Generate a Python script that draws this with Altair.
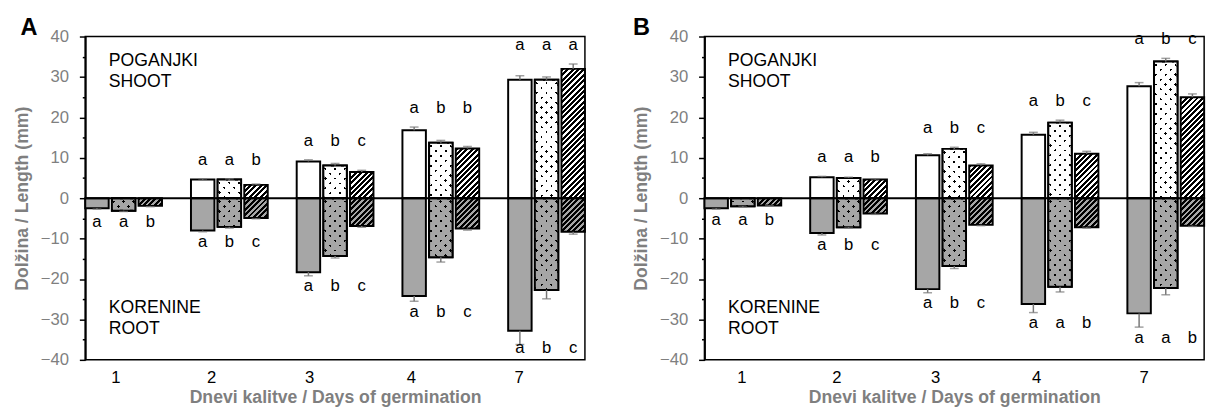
import altair as alt

FONT = "Liberation Sans"
TXT_GRAY = "#7f7f7f"
ERR_GRAY = "#777777"
ROOT_GRAY = "#a6a6a6"

DAYS = ["1", "2", "3", "4", "7"]
SHOOT_DAYS = ["2", "3", "4", "7"]
TREATMENTS = ["T1", "T2", "T3"]

# ---------------- Panel A ----------------
A_SHOOT_T1 = [4.6, 9.1, 16.8, 29.3]
A_SHOOT_T2 = [4.6, 8.1, 13.7, 29.3]
A_SHOOT_T3 = [3.3, 6.5, 12.3, 32.0]
A_SHOOT_ERR_T1 = [0.2, 0.4, 0.8, 1.0]
A_SHOOT_ERR_T2 = [0.2, 0.5, 0.6, 0.7]
A_SHOOT_ERR_T3 = [0.2, 0.4, 0.5, 1.2]
A_SHOOT_LET_T1 = ["a", "a", "a", "a"]
A_SHOOT_LET_T2 = ["a", "b", "b", "a"]
A_SHOOT_LET_T3 = ["b", "c", "b", "a"]

A_ROOT_T1 = [-2.5, -8.0, -18.3, -24.2, -32.8]
A_ROOT_T2 = [-3.1, -7.1, -14.3, -14.6, -22.7]
A_ROOT_T3 = [-1.9, -4.9, -6.9, -7.5, -8.3]
A_ROOT_ERR_T1 = [0.2, 0.3, 0.9, 1.3, 3.4]
A_ROOT_ERR_T2 = [0.2, 0.3, 0.5, 1.2, 2.2]
A_ROOT_ERR_T3 = [0.2, 0.2, 0.3, 0.4, 0.6]
A_ROOT_LET_T1 = ["a", "a", "a", "a", "a"]
A_ROOT_LET_T2 = ["a", "b", "b", "b", "b"]
A_ROOT_LET_T3 = ["b", "c", "c", "c", "c"]

# ---------------- Panel B ----------------
B_SHOOT_T1 = [5.2, 10.6, 15.7, 27.7]
B_SHOOT_T2 = [5.0, 12.2, 18.7, 33.8]
B_SHOOT_T3 = [4.6, 8.1, 11.0, 25.0]
B_SHOOT_ERR_T1 = [0.2, 0.4, 0.6, 0.9]
B_SHOOT_ERR_T2 = [0.2, 0.4, 0.6, 0.8]
B_SHOOT_ERR_T3 = [0.2, 0.4, 0.6, 0.8]
B_SHOOT_LET_T1 = ["a", "a", "a", "a"]
B_SHOOT_LET_T2 = ["a", "b", "b", "b"]
B_SHOOT_LET_T3 = ["b", "c", "c", "c"]

B_ROOT_T1 = [-2.5, -8.6, -22.5, -26.2, -28.5]
B_ROOT_T2 = [-2.0, -7.2, -16.8, -21.9, -22.2]
B_ROOT_T3 = [-1.8, -3.8, -6.6, -7.2, -6.8]
B_ROOT_ERR_T1 = [0.2, 0.5, 0.9, 2.1, 3.4]
B_ROOT_ERR_T2 = [0.2, 0.2, 0.6, 1.3, 1.7]
B_ROOT_ERR_T3 = [0.1, 0.2, 0.2, 0.2, 0.2]
B_ROOT_LET_T1 = ["a", "a", "a", "a", "a"]
B_ROOT_LET_T2 = ["a", "b", "b", "a", "a"]
B_ROOT_LET_T3 = ["b", "c", "c", "b", "b"]

# ---------------- pattern helpers (fill styles) ----------------
PLOT_W, PLOT_H = 510, 330
PX_PER_UNIT = PLOT_H / 80.0
X_PAD_INNER, SUB_PAD_INNER = 0.274, 0.12
_step = PLOT_W / (len(DAYS) - X_PAD_INNER)
_band = _step * (1 - X_PAD_INNER)
BAR_W = _band / (len(TREATMENTS) - SUB_PAD_INNER) * (1 - SUB_PAD_INNER)


def _stops(total, period, frac, on, off, phase):
    pt = period / total
    out = []
    t = (phase - 1.0) * pt
    while t < 1.0:
        a, b, c = t, t + frac * pt, t + pt
        for o, col in ((a, on), (b, on), (b, off), (c, off)):
            out.append({"offset": round(min(max(o, 0.0), 1.0), 5), "color": col})
        t += pt
    return out


def diag_grad(w, h, period, frac, on, off, direction, phase=0.0):
    k = (w + h) / (w * w + h * h)
    if direction == "/":
        x1, y1, x2, y2 = 0, 0, k * w, k * h
    else:
        x1, y1, x2, y2 = 1, 0, 1 - k * w, k * h
    return {"gradient": "linear", "x1": x1, "y1": y1, "x2": round(x2, 6), "y2": round(y2, 6),
            "stops": _stops(w + h, period, frac, on, off, phase)}


def build_rows(shoots, shoot_errs, shoot_lets, roots, root_errs, root_lets):
    rows = []
    for ti, t in enumerate(TREATMENTS):
        parts = [("shoot", SHOOT_DAYS, shoots[ti], shoot_errs[ti], shoot_lets[ti]),
                 ("root", DAYS, roots[ti], root_errs[ti], root_lets[ti])]
        for part, dlist, vals, errs, lets in parts:
            bg = "white" if part == "shoot" else ROOT_GRAY
            for d, v, e, l in zip(dlist, vals, errs, lets):
                h = max(abs(v) * PX_PER_UNIT, 1.0)
                row = {"day": d, "trt": t, "part": part, "value": v, "err": e, "letter": l}
                if t == "T1":
                    row["fill1"] = bg
                elif t == "T2":
                    row["fill1"] = diag_grad(BAR_W, h, 10, 0.27, "black", bg, "/", 0.4)
                    row["fill2"] = diag_grad(BAR_W, h, 10, 0.27, "rgba(255,255,255,0)", bg, "\\", 0.4)
                else:
                    row["fill1"] = diag_grad(BAR_W, h, 5.5, 0.55, "black", bg, "/")
                rows.append(row)
    return rows


def make_panel(rows, letter, title_dx, label_offsets):
    data = alt.Data(values=rows)
    base = alt.Chart(data)

    x_axis = alt.Axis(
        title="Dnevi kalitve / Days of germination", labelAngle=0, ticks=False, domain=False,
        labelColor="black", labelFont=FONT, labelFontSize=17, labelPadding=10,
        labelOffset={"condition": [{"test": f"datum.value == '{d}'", "value": o}
                                   for d, o in zip(DAYS, label_offsets)], "value": 0},
        titleColor=TXT_GRAY, titleFont=FONT, titleFontSize=18, titleFontWeight="bold",
        titlePadding=4, grid=False)
    x = alt.X("day:N", sort=DAYS, axis=x_axis,
              scale=alt.Scale(paddingInner=X_PAD_INNER, paddingOuter=0))
    xoff = alt.XOffset("trt:N", sort=TREATMENTS,
                       scale=alt.Scale(paddingInner=SUB_PAD_INNER, paddingOuter=0))

    y_axis = alt.Axis(
        title="Dolžina / Length (mm)", values=list(range(-40, 45, 5)),
        labelExpr="datum.value % 10 == 0 ? datum.label : ''",
        tickSize={"condition": {"test": "datum.value % 10 != 0", "value": 3}, "value": 6},
        tickColor="black", tickWidth=1.5, domainColor="black", domainWidth=2,
        labelColor=TXT_GRAY, labelFont=FONT, labelFontSize=17, labelPadding=11,
        labelOverlap=False, labelFlush=False,
        titleColor=TXT_GRAY, titleFont=FONT, titleFontSize=18, titleFontWeight="bold",
        titlePadding=9, grid=False)
    y_scale = alt.Scale(domain=[-40, 40], nice=False)

    def Y(field):
        return alt.Y(field, scale=y_scale, axis=y_axis)

    end_expr = "datum.part == 'shoot' ? datum.value + datum.err : datum.value - datum.err"

    bars = base.mark_bar(stroke="black", strokeWidth=2).encode(
        x=x, xOffset=xoff, y=Y("value:Q"), fill=alt.Fill("fill1:N", scale=None))
    dots = base.transform_filter("datum.trt == 'T2'").mark_bar(stroke="black", strokeWidth=2).encode(
        x=x, xOffset=xoff, y=Y("value:Q"), fill=alt.Fill("fill2:N", scale=None))
    err_rule = base.transform_calculate(end=end_expr).mark_rule(color=ERR_GRAY, strokeWidth=1.5).encode(
        x=x, xOffset=xoff, y=Y("value:Q"), y2="end:Q")
    err_cap = base.transform_calculate(end=end_expr).mark_tick(
        color=ERR_GRAY, thickness=1.5, size=9, orient="horizontal").encode(
        x=x, xOffset=xoff, y=Y("end:Q"))
    zero = alt.Chart(alt.Data(values=[{}])).mark_rule(color="black", strokeWidth=2).encode(
        y=alt.Y(datum=0, scale=y_scale, axis=y_axis))

    shoot_let = (base.transform_filter("datum.part == 'shoot'")
                 .transform_calculate(end=end_expr)
                 .transform_joinaggregate(gmax="max(end)", groupby=["day"])
                 .transform_calculate(ly="datum.gmax + 4.7")
                 .mark_text(font=FONT, fontSize=17, color="black", baseline="middle")
                 .encode(x=x, xOffset=xoff, y=Y("ly:Q"), text="letter:N"))
    root_let = (base.transform_filter("datum.part == 'root'")
                .transform_calculate(end=end_expr)
                .transform_joinaggregate(gmin="min(end)", groupby=["day"])
                .transform_calculate(ly="max(datum.gmin - 2.6, -37.2)")
                .mark_text(font=FONT, fontSize=17, color="black", baseline="middle")
                .encode(x=x, xOffset=xoff, y=Y("ly:Q"), text="letter:N"))

    ann_top = alt.Chart(alt.Data(values=[{}])).mark_text(
        text=["POGANJKI", "SHOOT"], lineHeight=21.5, align="left", baseline="alphabetic",
        font=FONT, fontSize=18, color="black").encode(
        x=alt.value(24), y=alt.Y(datum=32.6, scale=y_scale, axis=y_axis))
    ann_bot = alt.Chart(alt.Data(values=[{}])).mark_text(
        text=["KORENINE", "ROOT"], lineHeight=21.5, align="left", baseline="alphabetic",
        font=FONT, fontSize=18, color="black").encode(
        x=alt.value(24), y=alt.Y(datum=-28.5, scale=y_scale, axis=y_axis))

    return alt.layer(bars, dots, err_rule, err_cap, zero, shoot_let, root_let, ann_top, ann_bot).properties(
        width=PLOT_W, height=PLOT_H,
        title=alt.TitleParams(text=letter, anchor="start", frame="group", dx=title_dx, dy=32,
                              fontSize=24, fontWeight="bold", font=FONT, color="black",
                              baseline="alphabetic", offset=1))


rows_a = build_rows([A_SHOOT_T1, A_SHOOT_T2, A_SHOOT_T3],
                    [A_SHOOT_ERR_T1, A_SHOOT_ERR_T2, A_SHOOT_ERR_T3],
                    [A_SHOOT_LET_T1, A_SHOOT_LET_T2, A_SHOOT_LET_T3],
                    [A_ROOT_T1, A_ROOT_T2, A_ROOT_T3],
                    [A_ROOT_ERR_T1, A_ROOT_ERR_T2, A_ROOT_ERR_T3],
                    [A_ROOT_LET_T1, A_ROOT_LET_T2, A_ROOT_LET_T3])
rows_b = build_rows([B_SHOOT_T1, B_SHOOT_T2, B_SHOOT_T3],
                    [B_SHOOT_ERR_T1, B_SHOOT_ERR_T2, B_SHOOT_ERR_T3],
                    [B_SHOOT_LET_T1, B_SHOOT_LET_T2, B_SHOOT_LET_T3],
                    [B_ROOT_T1, B_ROOT_T2, B_ROOT_T3],
                    [B_ROOT_ERR_T1, B_ROOT_ERR_T2, B_ROOT_ERR_T3],
                    [B_ROOT_LET_T1, B_ROOT_LET_T2, B_ROOT_LET_T3])

panel_a = make_panel(rows_a, "A", -66, [-8, -18, -26, -30, -28])
panel_b = make_panel(rows_b, "B", -73, [-1, -12, -19, -24, -22])

chart = alt.hconcat(panel_a, panel_b, spacing=46).properties(
    padding={"left": 13, "top": 11, "right": 5, "bottom": 3}
).configure_view(stroke="black", strokeWidth=1.5)

chart.save("out.html", embed_options={"renderer": "svg", "actions": False})
